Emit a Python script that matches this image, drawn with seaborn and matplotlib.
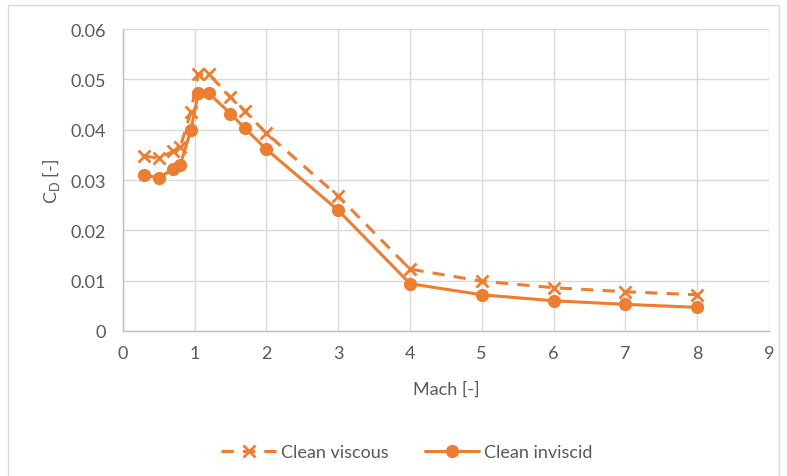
import matplotlib
matplotlib.use("Agg")
import matplotlib.pyplot as plt
import seaborn as sns
import pandas as pd
from matplotlib.patches import Rectangle

mach = [0.3, 0.5, 0.7, 0.8, 0.95, 1.05, 1.2, 1.5, 1.7, 2.0, 3, 4, 5, 6, 7, 8]
cd_viscous = [0.0348, 0.0343, 0.0357, 0.0365, 0.0436, 0.0510, 0.0510, 0.0465,
              0.0437, 0.0393, 0.0268, 0.0123, 0.0099, 0.0086, 0.0078, 0.0072]
cd_inviscid = [0.0309, 0.0305, 0.0321, 0.0330, 0.0400, 0.0472, 0.0472, 0.0432,
               0.0403, 0.0361, 0.0240, 0.0094, 0.0072, 0.0060, 0.0053, 0.0047]
x_ticks = [0, 1, 2, 3, 4, 5, 6, 7, 8, 9]
y_ticks = [0, 0.01, 0.02, 0.03, 0.04, 0.05, 0.06]
y_ticklabels = ['0', '0.01', '0.02', '0.03', '0.04', '0.05', '0.06']

df = pd.DataFrame({'Mach': mach, 'viscous': cd_viscous, 'inviscid': cd_inviscid})

sns.set_style("white")
plt.rcParams['font.family'] = ['Lato', 'DejaVu Sans']

orange = '#ED7D31'
grey_txt = '#595959'
fs = 13

fig = plt.figure(figsize=(7.87, 4.77), dpi=100)
ax = fig.add_axes([0.156, 0.304, 0.821, 0.633])

sns.lineplot(x='Mach', y='viscous', data=df, ax=ax, color=orange, linewidth=2.2,
             linestyle=(0, (4, 3)), marker='x', markersize=9, markeredgewidth=2,
             markeredgecolor=orange, label='Clean viscous')
sns.lineplot(x='Mach', y='inviscid', data=df, ax=ax, color=orange, linewidth=2.2,
             marker='o', markersize=9.5, markeredgewidth=0,
             label='Clean inviscid')

ax.set_xlim(0, 9)
ax.set_ylim(0, 0.06)
ax.set_xticks(x_ticks)
ax.set_yticks(y_ticks)
ax.set_yticklabels(y_ticklabels)
ax.tick_params(axis='y', colors=grey_txt, labelsize=fs, length=0, pad=12)
ax.tick_params(axis='x', colors=grey_txt, labelsize=fs, length=0, pad=10)
ax.grid(True, color='#D9D9D9', linewidth=1)
for s in ['top', 'right']:
    ax.spines[s].set_visible(False)
for s in ['left', 'bottom']:
    ax.spines[s].set_color('#BFBFBF')
    ax.spines[s].set_linewidth(1)

ax.set_xlabel('Mach [-]', color=grey_txt, fontsize=fs, labelpad=14)
ax.set_ylabel(r'C$_\mathregular{D}$ [-]', color=grey_txt, fontsize=fs, labelpad=6)

leg = ax.legend(loc='upper center', bbox_to_anchor=(0.44, -0.32), ncol=2,
                frameon=False, fontsize=fs, handlelength=3.0, handletextpad=0.3,
                columnspacing=2.0)
for t in leg.get_texts():
    t.set_color(grey_txt)

fig.patches.append(Rectangle((8 / 787, -0.01), 771 / 787, 1 - 6 / 477 + 0.01,
                             transform=fig.transFigure, fill=False,
                             edgecolor='#D9D9D9', linewidth=1))

fig.savefig('out.png', dpi=100)
